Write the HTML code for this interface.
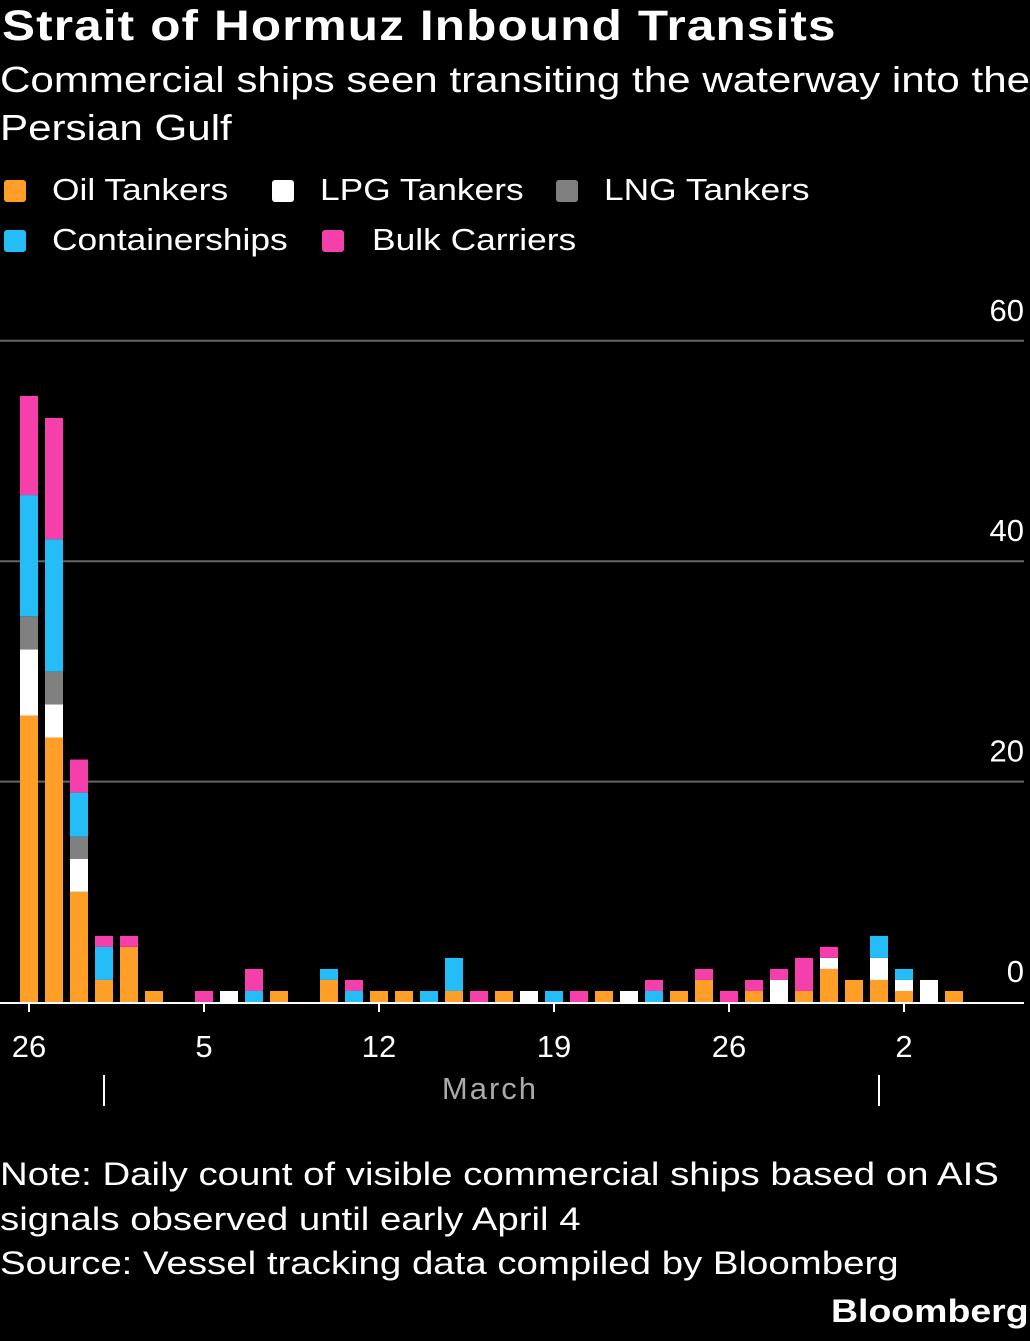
<!DOCTYPE html>
<html><head><meta charset="utf-8"><style>
body{margin:0;background:#000;width:1030px;height:1341px;overflow:hidden;font-family:"Liberation Sans",sans-serif;color:#fff;position:relative}
.t{position:absolute;white-space:nowrap;transform-origin:0 0}
.sw{position:absolute;width:22px;height:22px;border-radius:3px}
</style></head><body>
<div class="t" style="left:2px;top:2px;font-size:43px;font-weight:bold;letter-spacing:1px;transform:scaleX(1.15)">Strait of Hormuz Inbound Transits</div>
<div class="t" style="left:0;top:56px;font-size:36px;line-height:48px;transform:scaleX(1.17)">Commercial ships seen transiting the waterway into the<br>Persian Gulf</div>
<div>
<div class="sw" style="left:4px;top:180px;background:#ff9f28"></div><div class="t" style="left:52px;top:172px;font-size:31px;transform:scaleX(1.14)">Oil Tankers</div>
<div class="sw" style="left:272px;top:180px;background:#fff"></div><div class="t" style="left:320px;top:172px;font-size:31px;transform:scaleX(1.14)">LPG Tankers</div>
<div class="sw" style="left:556px;top:180px;background:#808080"></div><div class="t" style="left:604px;top:172px;font-size:31px;transform:scaleX(1.14)">LNG Tankers</div>
<div class="sw" style="left:4px;top:230px;background:#24bdf7"></div><div class="t" style="left:52px;top:222px;font-size:31px;transform:scaleX(1.14)">Containerships</div>
<div class="sw" style="left:322px;top:230px;background:#f53faa"></div><div class="t" style="left:372px;top:222px;font-size:31px;transform:scaleX(1.14)">Bulk Carriers</div>
</div>
<svg id="chart" width="1030" height="1341" style="position:absolute;left:0;top:0" font-family="Liberation Sans, sans-serif"></svg>
<div class="t" style="left:0;top:1152px;font-size:32px;line-height:45px;transform:scaleX(1.2)">Note: Daily count of visible commercial ships based on AIS<br>signals observed until early April 4</div>
<div class="t" style="left:0;top:1245px;font-size:32px;transform:scaleX(1.2)">Source: Vessel tracking data compiled by Bloomberg</div>
<div class="t" style="left:831px;top:1293px;font-size:32px;font-weight:bold;transform:scaleX(1.17)">Bloomberg</div>
<script>
const days = 38;
const oil  = [26,24,10,2,5,1,0,0,0,0,1,0,2,0,1,1,0,1,0,1,0,0,0,1,0,0,1,2,0,1,0,1,3,2,2,1,0,1];
const lpg  = [6,3,3,0,0,0,0,0,1,0,0,0,0,0,0,0,0,0,0,0,1,0,0,0,1,0,0,0,0,0,2,0,1,0,2,1,2,0];
const lng  = [3,3,2,0,0,0,0,0,0,0,0,0,0,0,0,0,0,0,0,0,0,0,0,0,0,0,0,0,0,0,0,0,0,0,0,0,0,0];
const cont = [11,12,4,3,0,0,0,0,0,1,0,0,1,1,0,0,1,3,0,0,0,1,0,0,0,1,0,0,0,0,0,0,0,0,2,1,0,0];
const bulk = [9,11,3,1,1,0,0,1,0,2,0,0,0,1,0,0,0,0,1,0,0,0,1,0,0,1,0,1,1,1,1,3,1,0,0,0,0,0];
const yTicks = [0,20,40,60];
const xLabels = [{i:0,t:"26"},{i:7,t:"5"},{i:14,t:"12"},{i:21,t:"19"},{i:28,t:"26"},{i:35,t:"2"}];
const monthSeps = [3,34];
const series=[[oil,"#ff9f28"],[lpg,"#ffffff"],[lng,"#808080"],[cont,"#24bdf7"],[bulk,"#f53faa"]];
const y0=1002, pxPer=11.02;
const y=v=>y0-v*pxPer;
const x=i=>29+i*25;
const svg=document.getElementById('chart');
const NS="http://www.w3.org/2000/svg";
function mk(tag,a){const e=document.createElementNS(NS,tag);for(const k in a)e.setAttribute(k,a[k]);svg.appendChild(e);return e;}
yTicks.forEach(v=>{
  if(v>0){const l=mk('line',{x1:0,x2:1024,y1:y(v),y2:y(v),stroke:'#666','stroke-width':2});
  
  }
  const t=mk('text',{x:1024,y:y(v)-20,'text-anchor':'end','font-size':31,fill:'#fff'});t.textContent=v;
  
  
});
for(let i=0;i<days;i++){
  let acc=0;
  series.forEach(([arr,col])=>{
    const v=arr[i];if(!v)return;
    const r=mk('rect',{x:x(i)-9,y:y(acc+v),width:18,height:v*pxPer,fill:col});
    
    
    acc+=v;
  });
}
const base=mk('line',{x1:0,x2:1024,y1:y0+1,y2:y0+1,stroke:'#fff','stroke-width':2});


xLabels.forEach(o=>{
  mk('line',{x1:x(o.i),x2:x(o.i),y1:y0+2,y2:y0+10,stroke:'#fff','stroke-width':2});
  const t=mk('text',{x:x(o.i),y:1057,'text-anchor':'middle','font-size':31,fill:'#fff'});t.textContent=o.t;
  
  
});
monthSeps.forEach(i=>{const l=mk('line',{x1:x(i),x2:x(i),y1:1075,y2:1106,stroke:'#fff','stroke-width':2});
  
  });
const m=mk('text',{x:490,y:1099,'text-anchor':'middle','font-size':31,fill:'#aaa','letter-spacing':2});m.textContent="March";


</script>
</body></html>
